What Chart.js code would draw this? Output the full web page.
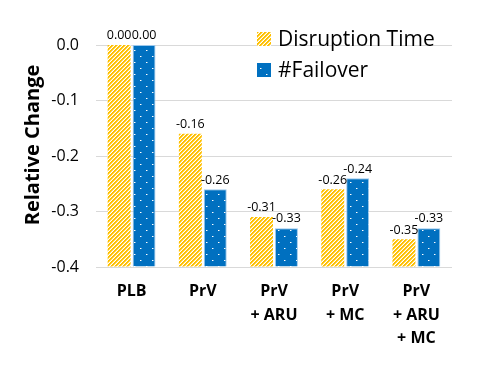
<!DOCTYPE html>
<html>
<head>
<meta charset="utf-8">
<script src="https://cdn.jsdelivr.net/npm/chart.js@4"></script>
<style>
  html,body{margin:0;padding:0;background:#fff;}
  #wrap{width:502px;height:366px;}
</style>
</head>
<body>
<div id="wrap"><canvas id="c" width="502" height="366"></canvas></div>
<script>
var categories = [['PLB'], ['PrV'], ['PrV', '+ ARU'], ['PrV', '+ MC'], ['PrV', '+ ARU', '+ MC']];
var seriesNames = ['Disruption Time', '#Failover'];
var disruptionTime = [0.00, -0.16, -0.31, -0.26, -0.35];
var failover = [0.00, -0.26, -0.33, -0.24, -0.33];
var yMin = -0.4, yMax = 0.0, yStep = 0.1;
var yTitle = 'Relative Change';

var FONT = '"Open Sans", "Liberation Sans", sans-serif';
var YELLOW = '#ffc000', BLUE = '#0070c0';

// hatched yellow: diagonal "/" stripes
function stripePattern(){
  var c = document.createElement('canvas'); c.width = 4; c.height = 4;
  var x = c.getContext('2d'), img = x.createImageData(4, 4);
  for (var j = 0; j < 4; j++) for (var i = 0; i < 4; i++) {
    var k = (i + j) % 4, p = (j * 4 + i) * 4, col;
    if (k < 2) col = [255, 192, 0]; else if (k === 2) col = [255, 222, 120]; else col = [255, 255, 255];
    img.data[p] = col[0]; img.data[p+1] = col[1]; img.data[p+2] = col[2]; img.data[p+3] = 255;
  }
  x.putImageData(img, 0, 0);
  return x.createPattern(c, 'repeat');
}
// blue with small white dots
function dotPattern(){
  var c = document.createElement('canvas'); c.width = 12; c.height = 12;
  var x = c.getContext('2d');
  x.fillStyle = BLUE; x.fillRect(0, 0, 12, 12);
  x.fillStyle = '#ffffff';
  x.fillRect(2, 2, 1, 1); x.fillRect(8, 8, 1, 1);
  x.fillStyle = 'rgba(255,255,255,0.45)';
  x.fillRect(3, 2, 1, 1); x.fillRect(9, 8, 1, 1);
  return x.createPattern(c, 'repeat');
}
var yPat = stripePattern(), bPat = dotPattern();

var valueLabels = {
  id: 'valueLabels',
  afterDatasetsDraw: function(chart){
    var ctx = chart.ctx;
    ctx.save();
    ctx.font = '12.5px ' + FONT; ctx.fillStyle = '#000'; ctx.textAlign = 'center'; ctx.textBaseline = 'bottom';
    chart.data.datasets.forEach(function(ds, di){
      chart.getDatasetMeta(di).data.forEach(function(el, i){
        ctx.fillText(ds.data[i].toFixed(2), el.x, el.y - 3);
      });
    });
    ctx.restore();
  }
};

var extras = {
  id: 'extras',
  afterDraw: function(chart){
    var ctx = chart.ctx;
    ctx.save();
    // legend
    var fills = [yPat, bPat];
    var rows = [39, 70];
    ctx.font = '21px ' + FONT; ctx.textBaseline = 'middle'; ctx.textAlign = 'left'; ctx.fillStyle = '#000';
    seriesNames.forEach(function(n, i){
      ctx.fillStyle = fills[i]; ctx.fillRect(257, rows[i] - 7, 14, 14);
      ctx.fillStyle = '#000'; ctx.fillText(n, 278, rows[i] + 1);
    });
    // y title
    ctx.translate(33, 145); ctx.rotate(-Math.PI / 2);
    ctx.font = 'bold 20px ' + FONT; ctx.textAlign = 'center'; ctx.textBaseline = 'middle';
    ctx.fillText(yTitle, 0, 0);
    ctx.restore();
  }
};

new Chart(document.getElementById('c'), {
  type: 'bar',
  data: {
    labels: categories,
    datasets: [
      {label: seriesNames[0], data: disruptionTime, base: yMin, backgroundColor: yPat, borderWidth: 0,
       categoryPercentage: 0.70, barPercentage: 0.92},
      {label: seriesNames[1], data: failover, base: yMin, backgroundColor: bPat, borderColor: '#9cc8ec', borderWidth: 1,
       categoryPercentage: 0.70, barPercentage: 0.92}
    ]
  },
  options: {
    responsive: false, animation: false,
    layout: {padding: {top: 45, right: 50, bottom: 0, left: 0}},
    plugins: {legend: {display: false}, tooltip: {enabled: false}},
    scales: {
      x: {
        grid: {display: false, drawTicks: false}, border: {display: false},
        ticks: {color: '#000', padding: 13, font: {family: FONT, size: 16, weight: 'bold', lineHeight: 1.47}, maxRotation: 0},
        afterFit: function(s){ s.height = 99; }
      },
      y: {
        min: yMin, max: yMax,
        grid: {color: '#d9d9d9', lineWidth: 1, drawTicks: false}, border: {display: false},
        ticks: {stepSize: yStep, color: '#000', padding: 17, font: {family: FONT, size: 16},
                callback: function(v){ return (Math.abs(v) < 1e-9 ? 0 : v).toFixed(1); }},
        afterFit: function(s){ s.width = 96; }
      }
    }
  },
  plugins: [valueLabels, extras]
});
</script>
</body>
</html>
